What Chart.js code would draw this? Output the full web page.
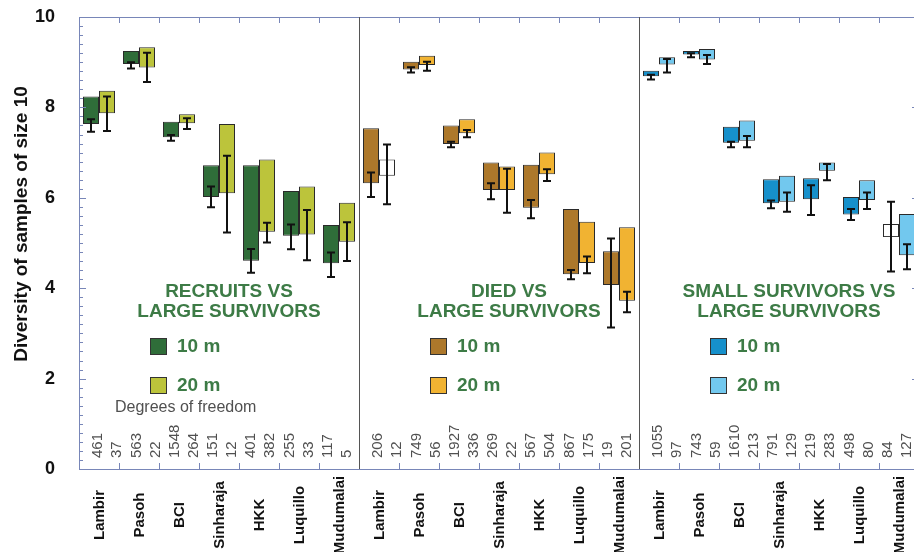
<!DOCTYPE html>
<html>
<head>
<meta charset="utf-8">
<script src="https://cdn.jsdelivr.net/npm/chart.js@4.4.0/dist/chart.umd.min.js"></script>
<style>
  html, body { margin: 0; padding: 0; background: #fff; overflow: hidden; }
  #wrap { width: 940px; height: 552px; }
</style>
</head>
<body>
<div id="wrap"><canvas id="divChart" width="940" height="552"></canvas></div>
<script>
// Sitios y paneles
const sites = ["Lambir", "Pasoh", "BCI", "Sinharaja", "HKK", "Luquillo", "Mudumalai"];
const panelTitles = [
  ["RECRUITS VS", "LARGE SURVIVORS"],
  ["DIED VS", "LARGE SURVIVORS"],
  ["SMALL SURVIVORS VS", "LARGE SURVIVORS"],
];
const yTicks = [0, 2, 4, 6, 8, 10];

// Rango de cada barra [min, max] y barra de error [min, max]
const rec10 = [[7.63, 8.24], [8.96, 9.25], [7.34, 7.68], [6.02, 6.72], [4.61, 6.72], [5.16, 6.15], [4.55, 5.40]];
const rec10Err = [[7.46, 7.74], [8.86, 9.00], [7.26, 7.39], [5.79, 6.25], [4.34, 4.87], [4.86, 5.41], [4.25, 4.79]];
const rec20 = [[7.87, 8.37], [8.88, 9.33], [7.65, 7.85], [6.10, 7.63], [5.25, 6.85], [5.19, 6.25], [5.03, 5.89]];
const rec20Err = [[7.48, 8.24], [8.56, 9.21], [7.52, 7.76], [5.23, 6.93], [5.01, 5.45], [4.62, 5.73], [4.60, 5.46]];

const died10 = [[6.32, 7.54], [8.84, 9.01], [7.19, 7.60], [6.17, 6.78], [5.78, 6.73], [4.31, 5.75], [4.07, 4.82]];
const died10Err = [[6.02, 6.56], [8.77, 8.89], [7.12, 7.24], [5.97, 6.32], [5.55, 5.95], [4.20, 4.40], [3.13, 5.10]];
const died20 = [[6.49, 6.85], [8.94, 9.14], [7.43, 7.74], [6.17, 6.69], [6.52, 7.00], [4.56, 5.47], [3.72, 5.35]];
const died20Err = [[5.86, 7.18], [8.81, 9.01], [7.34, 7.50], [5.67, 6.64], [6.37, 6.63], [4.33, 4.70], [3.47, 3.92]];

const small10 = [[8.69, 8.81], [9.17, 9.25], [7.22, 7.57], [5.88, 6.41], [5.97, 6.43], [5.63, 6.02], [5.13, 5.42]];
const small10Err = [[8.62, 8.72], [9.11, 9.20], [7.12, 7.24], [5.77, 5.94], [5.62, 6.28], [5.51, 5.75], [4.37, 5.91]];
const small20 = [[8.95, 9.11], [9.06, 9.29], [7.26, 7.71], [5.91, 6.49], [6.60, 6.78], [5.95, 6.39], [4.73, 5.64]];
const small20Err = [[8.77, 9.07], [8.96, 9.16], [7.12, 7.37], [5.69, 6.12], [6.39, 6.75], [5.75, 6.12], [4.42, 4.97]];

// Grados de libertad (10 m, 20 m por sitio)
const dfRec = [461, 37, 563, 22, 1548, 264, 151, 12, 401, 382, 255, 33, 117, 5];
const dfDied = [206, 12, 749, 56, 1927, 336, 269, 22, 567, 504, 867, 175, 19, 201];
const dfSmall = [1055, 97, 743, 59, 1610, 213, 791, 129, 219, 283, 498, 80, 84, 127];

// Barras sin significancia (blancas), índice sobre los 21 grupos
const hollow10 = [20];
const hollow20 = [7];

const colors10 = ["#2f6d39", "#ad782b", "#1690cb"];
const colors20 = ["#bcc43b", "#f1b332", "#72c8ee"];
const titleGreen = "#3d7b46";
const axisBlue = "#7886b8";
const FONT = "'Liberation Sans', Arial, Helvetica, sans-serif";

const labels = sites.concat(sites, sites);
const bars10 = rec10.concat(died10, small10);
const bars20 = rec20.concat(died20, small20);
const errs10 = rec10Err.concat(died10Err, small10Err);
const errs20 = rec20Err.concat(died20Err, small20Err);
const dfAll = [dfRec, dfDied, dfSmall];

const fill10 = labels.map((_, i) => (hollow10.includes(i) ? "#ffffff" : colors10[Math.floor(i / 7)]));
const fill20 = labels.map((_, i) => (hollow20.includes(i) ? "#ffffff" : colors20[Math.floor(i / 7)]));

const decorations = {
  id: "decorations",
  afterDatasetsDraw(chart) {
    const { ctx } = chart;
    const y = chart.scales.y;
    // Barras de error
    [errs10, errs20].forEach((errs, d) => {
      chart.getDatasetMeta(d).data.forEach((bar, i) => {
        const lo = y.getPixelForValue(errs[i][0]);
        const hi = y.getPixelForValue(errs[i][1]);
        ctx.save();
        ctx.strokeStyle = "#111";
        ctx.lineWidth = 2;
        ctx.beginPath();
        ctx.moveTo(bar.x, lo);
        ctx.lineTo(bar.x, hi);
        ctx.moveTo(bar.x - 4, lo);
        ctx.lineTo(bar.x + 4, lo);
        ctx.moveTo(bar.x - 4, hi);
        ctx.lineTo(bar.x + 4, hi);
        ctx.stroke();
        ctx.restore();
      });
    });
  },
  afterDraw(chart) {
    const { ctx, chartArea } = chart;
    const x = chart.scales.x;
    const y = chart.scales.y;
    const groupW = x.getPixelForValue(1) - x.getPixelForValue(0);
    const edge = (i) => x.getPixelForValue(i) - groupW / 2;

    ctx.save();
    // Marco
    ctx.strokeStyle = axisBlue;
    ctx.lineWidth = 1;
    ctx.beginPath();
    ctx.moveTo(chartArea.left, chartArea.top + 0.5);
    ctx.lineTo(chartArea.right, chartArea.top + 0.5);
    ctx.moveTo(chartArea.left, chartArea.bottom + 0.5);
    ctx.lineTo(chartArea.right, chartArea.bottom + 0.5);
    ctx.moveTo(chartArea.right - 0.5, chartArea.top);
    ctx.lineTo(chartArea.right - 0.5, chartArea.bottom);
    // Marcas menores del eje Y
    for (let k = 0; k <= 50; k++) {
      const py = Math.round(y.getPixelForValue(k * 0.2)) + 0.5;
      const len = k % 10 === 0 ? 7 : 4;
      ctx.moveTo(chartArea.left, py);
      ctx.lineTo(chartArea.left + len, py);
      if (k % 10 === 0) {
        ctx.moveTo(chartArea.right, py);
        ctx.lineTo(chartArea.right - 7, py);
      }
    }
    // Marcas entre sitios
    for (let i = 1; i < labels.length; i++) {
      const px = Math.round(edge(i)) + 0.5;
      ctx.moveTo(px, chartArea.top);
      ctx.lineTo(px, chartArea.top + 6);
      ctx.moveTo(px, chartArea.bottom);
      ctx.lineTo(px, chartArea.bottom - 6);
    }
    ctx.stroke();

    // Separadores de paneles
    ctx.strokeStyle = "#555";
    ctx.beginPath();
    [7, 14].forEach((i) => {
      const px = Math.round(edge(i)) + 0.5;
      ctx.moveTo(px, chartArea.top);
      ctx.lineTo(px, chartArea.bottom);
    });
    ctx.stroke();

    // Título del eje Y
    ctx.save();
    ctx.translate(22, 224);
    ctx.rotate(-Math.PI / 2);
    ctx.fillStyle = "#111";
    ctx.font = "bold 19px " + FONT;
    ctx.textAlign = "center";
    ctx.textBaseline = "middle";
    ctx.fillText("Diversity of samples of size 10", 0, 0);
    ctx.restore();

    // Nombres de sitios
    labels.forEach((name, i) => {
      ctx.save();
      ctx.translate(x.getPixelForValue(i) + 1, 515);
      ctx.rotate(-Math.PI / 2);
      ctx.fillStyle = "#111";
      ctx.font = "bold 15px " + FONT;
      ctx.textAlign = "center";
      ctx.textBaseline = "middle";
      ctx.fillText(name, 0, 0);
      ctx.restore();
    });

    // Grados de libertad
    dfAll.forEach((vals, p) => {
      vals.forEach((v, k) => {
        ctx.save();
        ctx.translate(edge(p * 7) + groupW * (0.48 + 0.478 * k), chartArea.bottom - 11);
        ctx.rotate(-Math.PI / 2);
        ctx.fillStyle = "#505050";
        ctx.font = "15px " + FONT;
        ctx.textAlign = "left";
        ctx.textBaseline = "middle";
        ctx.fillText(String(v), 0, 0);
        ctx.restore();
      });
    });
    ctx.fillStyle = "#505050";
    ctx.font = "16px " + FONT;
    ctx.textAlign = "left";
    ctx.textBaseline = "middle";
    ctx.fillText("Degrees of freedom", 115, 408);

    // Títulos y leyendas de cada panel
    panelTitles.forEach((lines, p) => {
      const start = edge(p * 7);
      ctx.fillStyle = titleGreen;
      ctx.font = "bold 19px " + FONT;
      ctx.textAlign = "center";
      ctx.textBaseline = "middle";
      lines.forEach((t, j) => ctx.fillText(t, start + groupW * 3.75, 292 + j * 19.5));

      [["10 m", colors10[p], 347], ["20 m", colors20[p], 386]].forEach(([txt, col, cy]) => {
        const sx = start + 71;
        ctx.fillStyle = col;
        ctx.fillRect(sx, cy - 9, 17, 17);
        ctx.strokeStyle = "#333";
        ctx.lineWidth = 1;
        ctx.strokeRect(sx + 0.5, cy - 8.5, 16, 16);
        ctx.fillStyle = titleGreen;
        ctx.font = "bold 19px " + FONT;
        ctx.textAlign = "left";
        ctx.fillText(txt, sx + 27, cy);
      });
    });
    ctx.restore();
  },
};

const ctx = document.getElementById("divChart").getContext("2d");
new Chart(ctx, {
  type: "bar",
  data: {
    labels: labels,
    datasets: [
      {
        label: "10 m",
        data: bars10,
        backgroundColor: fill10,
        borderColor: "#2a2a2a",
        borderWidth: 1,
        borderSkipped: false,
      },
      {
        label: "20 m",
        data: bars20,
        backgroundColor: fill20,
        borderColor: "#2a2a2a",
        borderWidth: 1,
        borderSkipped: false,
      },
    ],
  },
  options: {
    responsive: false,
    animation: false,
    categoryPercentage: 0.8,
    barPercentage: 1.0,
    layout: { padding: { left: 0, top: 17, right: 21, bottom: 83 } },
    plugins: { legend: { display: false }, tooltip: { enabled: false } },
    scales: {
      x: { type: "category", display: false },
      y: {
        min: 0,
        max: 10,
        ticks: {
          stepSize: 2,
          padding: 24,
          color: "#111",
          font: { family: FONT, size: 18, weight: "bold" },
        },
        grid: { drawOnChartArea: false, drawTicks: false },
        border: { color: axisBlue, width: 1 },
        afterFit(scale) {
          scale.width = 79;
          scale.paddingTop = 0;
          scale.paddingBottom = 0;
        },
      },
    },
  },
  plugins: [decorations],
});
</script>
</body>
</html>
